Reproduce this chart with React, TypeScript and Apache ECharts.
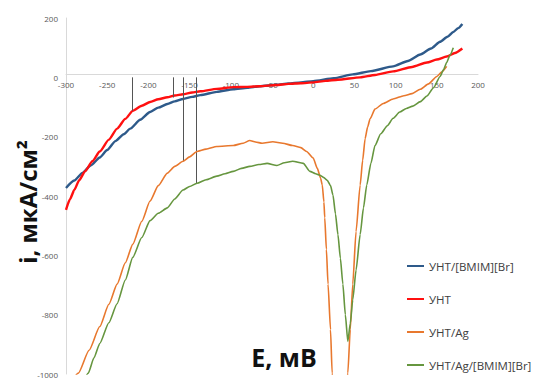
import React, { useEffect, useRef } from "react";
import * as echarts from "echarts";

const seriesNames = ["УНТ/[BMIM][Br]", "УНТ", "УНТ/Ag", "УНТ/Ag/[BMIM][Br]"];
const seriesColors = ["#2E5A8A", "#FF1010", "#E8782E", "#66963F"];

const xTicks = { min: -300, max: 200, interval: 50 };
const yTicks = { min: -1000, max: 200, interval: 200 };

const blueData: number[][] = [
  [-300, -373], [-290, -348], [-280, -322], [-270, -297], [-259, -270], [-250, -245], [-240, -215],
  [-230, -192], [-222, -173], [-210, -143], [-198, -117], [-188, -102], [-177, -90], [-168, -81],
  [-158, -73], [-147, -66], [-137, -60], [-117, -49], [-97, -40], [-80, -35], [-65, -30],
  [-45, -25], [-30, -21], [-15, -17], [0, -13], [25, -3], [48, 10], [70, 21], [97, 37],
  [115, 55], [130, 77], [143, 97], [154, 120], [163, 137], [170, 153], [176, 166], [181, 180],
];

const redData: number[][] = [
  [-300, -447], [-295, -410], [-290, -380], [-284, -347], [-277, -317], [-268, -283], [-259, -250],
  [-248, -210], [-238, -173], [-228, -140], [-219, -113], [-208, -96], [-198, -83], [-188, -74],
  [-177, -67], [-168, -61], [-158, -57], [-147, -51], [-137, -47], [-117, -39], [-97, -33],
  [-80, -32], [-65, -30], [-45, -26], [-30, -22], [-15, -20], [0, -17], [15, -12], [30, -8],
  [57, 0], [75, 8], [97, 20], [120, 35], [138, 50], [150, 60], [162, 70], [172, 82], [181, 97],
];

const orangeData: number[][] = [
  [-300, -1060], [-285, -997], [-272, -920], [-259, -840], [-248, -765], [-238, -697],
  [-228, -625], [-219, -563], [-208, -485], [-198, -417], [-188, -365], [-177, -323],
  [-168, -300], [-158, -283], [-150, -268], [-141, -250], [-130, -242], [-117, -233],
  [-97, -230], [-85, -222], [-77, -213], [-70, -218], [-62, -222], [-49, -217], [-37, -222],
  [-25, -230], [-15, -237], [-8, -250], [0, -272], [5, -307], [9, -340], [11, -363],
  [13, -420], [14, -473], [16, -580], [18, -697], [21, -850], [23, -997], [27, -1100],
  [33, -1150], [38, -1100], [42, -997], [45, -850], [48, -697], [52, -520], [57, -363],
  [60, -280], [63, -207], [66, -168], [69, -140], [75, -107], [85, -88], [97, -73],
  [110, -62], [120, -55], [130, -40], [140, -22], [150, 3], [156, 18], [162, 37],
];

const greenData: number[][] = [
  [-282, -1050], [-273, -997], [-266, -945], [-259, -897], [-248, -827], [-238, -763],
  [-228, -683], [-219, -607], [-208, -540], [-198, -483], [-188, -458], [-177, -440],
  [-168, -410], [-158, -380], [-150, -368], [-141, -357], [-130, -345], [-117, -333],
  [-107, -325], [-97, -317], [-87, -307], [-77, -300], [-66, -294], [-56, -290], [-44, -297],
  [-35, -288], [-25, -283], [-12, -290], [-4, -317], [3, -325], [8, -330], [13, -338],
  [17, -347], [21, -365], [24, -397], [27, -460], [30, -530], [33, -610], [36, -697],
  [39, -800], [42, -890], [45, -830], [48, -750], [52, -650], [57, -530], [61, -440],
  [65, -363], [70, -290], [75, -230], [82, -190], [90, -163], [97, -138], [105, -117],
  [113, -105], [121, -97], [130, -82], [138, -63], [146, -35], [154, 3], [158, 25],
  [162, 50], [166, 75], [170, 100],
];

const allData = [blueData, redData, orangeData, greenData];
const lineWidths = [2.4, 2.4, 1.6, 1.6];

// vertical annotation lines: potential, from current 0 down to this current
const guideLines: number[][] = [
  [-219, -113],
  [-170, -68],
  [-158, -283],
  [-142, -357],
];

const xAxisTitle = "E, мВ";
const yAxisTitle = "i, мкА/см²";

const GRID_TOP = 18;
const GRID_BOTTOM = 0;
const CHART_H = 378;

export default function App() {
  const ref = useRef<HTMLDivElement>(null);
  useEffect(() => {
    if (!ref.current) return;
    const chart = echarts.init(ref.current, null, { renderer: "svg" });
    const font = "'Open Sans', 'Liberation Sans', sans-serif";
    const gridH = CHART_H - GRID_TOP - GRID_BOTTOM;
    // distance from grid bottom up to the zero line of the y axis
    const zeroOffset = (gridH * (0 - yTicks.min)) / (yTicks.max - yTicks.min);
    const series: any[] = allData.map((d, k) => ({
      name: seriesNames[k],
      type: "line",
      data: d,
      showSymbol: false,
      symbol: "none",
      smooth: 0.2,
      smoothMonotone: "x",
      clip: true,
      color: seriesColors[k],
      lineStyle: { width: lineWidths[k], color: seriesColors[k] },
      z: 3 + k,
    }));
    series[0].markLine = {
      silent: true,
      symbol: "none",
      label: { show: false },
      lineStyle: { color: "#555555", width: 1, type: "solid" },
      data: guideLines.map(([e, i]) => [{ coord: [e, 0] }, { coord: [e, i] }]),
    };
    chart.setOption({
      animation: false,
      textStyle: { fontFamily: font },
      grid: { left: 66, right: 55, top: GRID_TOP, bottom: GRID_BOTTOM, containLabel: false },
      xAxis: {
        type: "value",
        position: "bottom",
        offset: -zeroOffset,
        min: xTicks.min,
        max: xTicks.max,
        interval: xTicks.interval,
        axisLine: { onZero: false, lineStyle: { color: "#d9d9d9", width: 1 } },
        axisTick: { show: false },
        splitLine: { show: false },
        axisLabel: { color: "#595959", fontSize: 8, margin: 6, fontFamily: font, formatter: (v: number) => String(v) },
      },
      yAxis: {
        type: "value",
        min: yTicks.min,
        max: yTicks.max,
        interval: yTicks.interval,
        axisLine: { show: true, onZero: false, lineStyle: { color: "#d9d9d9", width: 1 } },
        axisTick: { show: false },
        splitLine: { show: false },
        axisLabel: { color: "#595959", fontSize: 8, margin: 8, fontFamily: font, formatter: (v: number) => String(v) },
      },
      legend: {
        orient: "vertical",
        left: 402,
        top: 255,
        itemGap: 21,
        icon: "rect",
        itemWidth: 17,
        itemHeight: 2,
        itemStyle: { borderWidth: 0 },
        textStyle: { fontSize: 11.5, color: "#404040", fontFamily: font },
        data: seriesNames,
      },
      graphic: [
        {
          type: "text",
          x: 284,
          y: 357,
          style: {
            text: xAxisTitle,
            font: "bold 25px 'Open Sans', 'Liberation Sans', sans-serif",
            fill: "#111111",
            align: "center",
            verticalAlign: "middle",
          },
          z: 100,
        },
        {
          type: "text",
          x: 27,
          y: 202,
          rotation: Math.PI / 2,
          style: {
            text: yAxisTitle,
            font: "bold 24px 'Open Sans', 'Liberation Sans', sans-serif",
            fill: "#111111",
            align: "center",
            verticalAlign: "middle",
          },
          z: 100,
        },
      ],
      series,
    });
    return () => chart.dispose();
  }, []);
  return (
    <div
      ref={ref}
      style={{ position: "fixed", left: 0, top: 0, width: 533, height: 378, background: "#ffffff" }}
    />
  );
}
